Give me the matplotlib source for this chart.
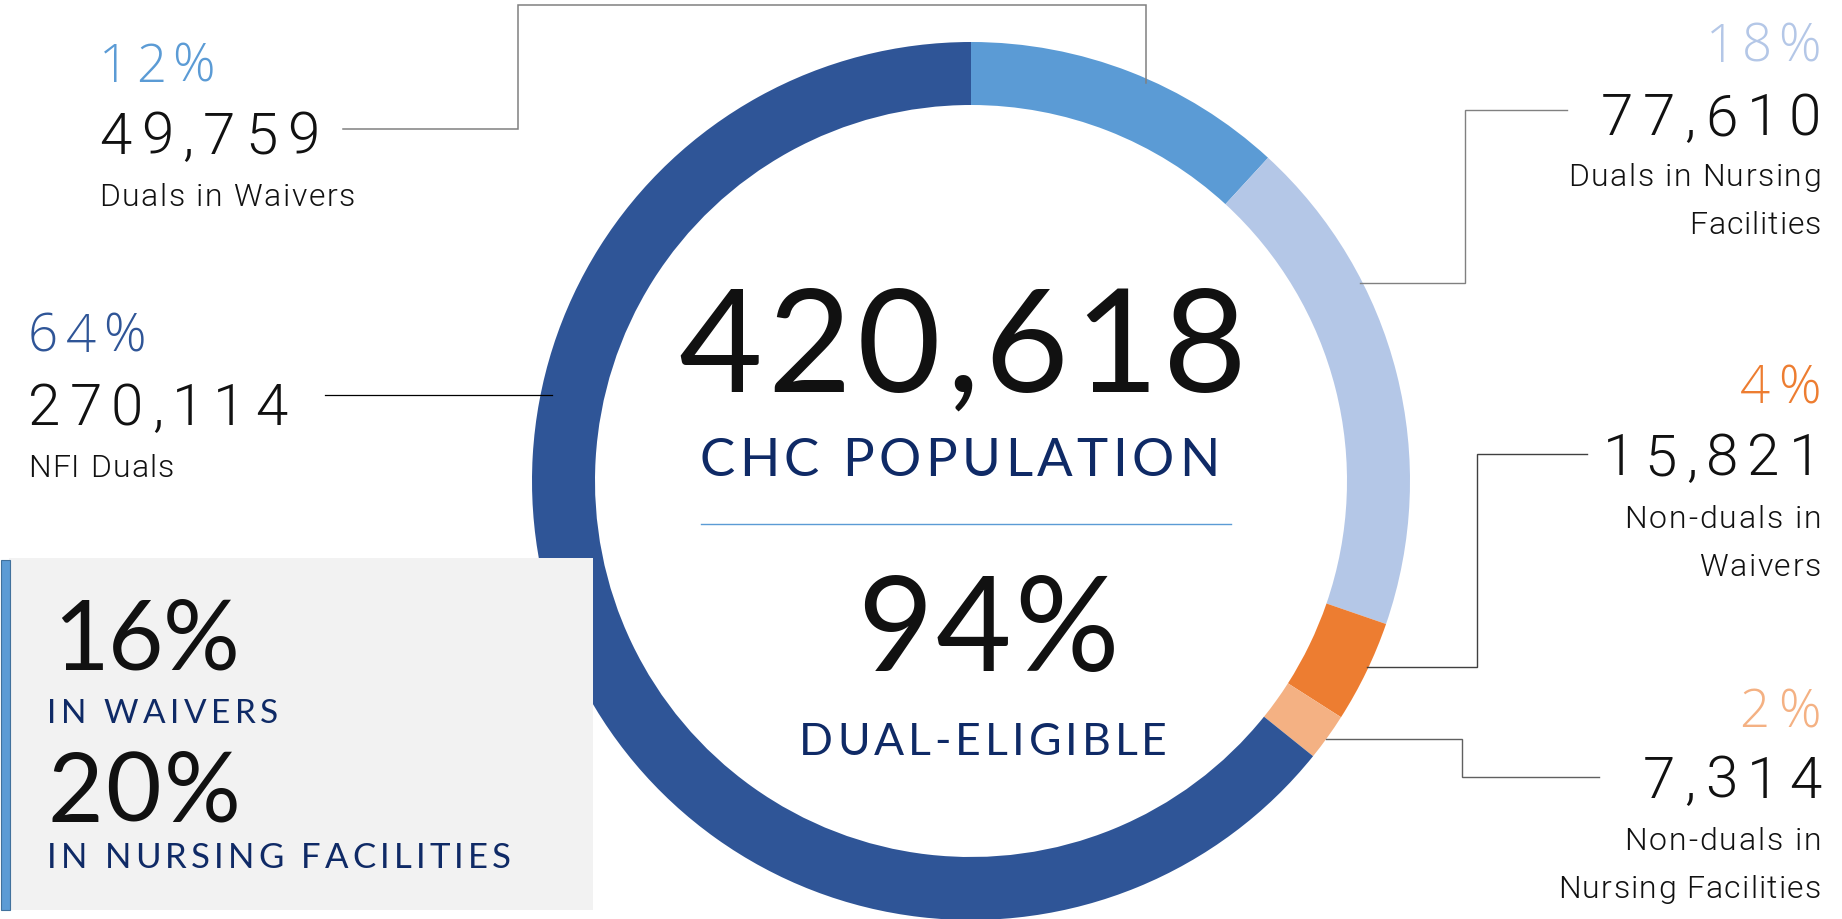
import matplotlib
matplotlib.use("Agg")
import matplotlib.pyplot as plt
from matplotlib.patches import Rectangle
from matplotlib.textpath import TextToPath
from matplotlib.font_manager import FontProperties, fontManager

# ---------------- data ----------------
categories = ["Duals in Waivers", "Duals in Nursing\nFacilities", "Non-duals in\nWaivers",
              "Non-duals in\nNursing Facilities", "NFI Duals"]
counts = [49759, 77610, 15821, 7314, 270114]
pct_labels = ["12%", "18%", "4%", "2%", "64%"]
seg_colors = ["#5B9BD5", "#B4C7E7", "#ED7D31", "#F4B183", "#2F5597"]
total_label = "420,618"
total_caption = "CHC POPULATION"
dual_pct = "94%"
dual_caption = "DUAL-ELIGIBLE"
box_values = ["16%", "20%"]
box_captions = ["IN WAIVERS", "IN NURSING FACILITIES"]

W, H = 1842, 919
NAVY = "#0F2A66"
BLACK = "#111111"


def _has(fam, weight):
    for f in fontManager.ttflist:
        try:
            wt = int(f.weight)
        except (TypeError, ValueError):
            wt = {"light": 300, "normal": 400, "regular": 400}.get(str(f.weight), 400)
        if f.name == fam and wt == weight and f.style == "normal":
            return True
    return False


def find_light(order):
    for fam in order:
        if _has(fam, 300):
            return fam, 300
    return "Lato", "normal"


LIGHT_FAM, LIGHT_WT = find_light(["Roboto", "Open Sans", "Noto Sans", "Lato"])
PCT_FAM, PCT_WT = find_light(["Open Sans", "Noto Sans", "Lato", "Roboto"])
REG_FAM = "Lato"

fig = plt.figure(figsize=(W / 100, H / 100), dpi=100)
fig.patch.set_facecolor("white")

# overlay axes in pixel coordinates
ov = fig.add_axes([0, 0, 1, 1])
ov.set_xlim(0, W)
ov.set_ylim(H, 0)
ov.axis("off")

# grey info box with blue bar
ov.add_patch(Rectangle((9, 558), 584, 352, facecolor="#F2F2F2", edgecolor="none", zorder=0))
ov.add_patch(Rectangle((0.5, 560), 9, 350, facecolor="#5B9BD5", edgecolor="#41719C", lw=0.8, zorder=1))

# donut
cx, cy, R = 971, 481, 439
pax = fig.add_axes([(cx - R) / W, (H - cy - R) / H, 2 * R / W, 2 * R / H])
pax.pie(counts, colors=seg_colors, startangle=90, counterclock=False,
        wedgeprops=dict(width=63 / R, edgecolor="none"), radius=1)
pax.set_xlim(-1, 1)
pax.set_ylim(-1, 1)
pax.set_aspect("equal")
pax.axis("off")
pax.set_zorder(0)
ov.set_zorder(2)
ov.patch.set_alpha(0)

_ttp = TextToPath()
PX = 100 / 72


def _w(s, prop):
    if not s.strip():
        return 0.0
    w, h, d = _ttp.get_text_width_height_descent(s, prop, ismath=False)
    return w * PX


def tracked(x, y, s, size, width, ha="left", color=BLACK, family=None, weight="normal"):
    prop = FontProperties(family=[family or REG_FAM, "DejaVu Sans"], weight=weight, size=size)
    natural = _w(s, prop)
    n = len(s)
    track = (width - natural) / (n - 1) if n > 1 else 0.0
    x0 = x - width if ha == "right" else (x - width / 2 if ha == "center" else x)
    for k, ch in enumerate(s):
        if ch == " ":
            continue
        off = _w(s[:k + 1], prop) - _w(ch, prop)
        ov.text(x0 + off + k * track, y, ch, fontproperties=prop, color=color,
                ha="left", va="baseline")


# label groups: x anchor, ha, pct (baseline, width), number (baseline, width), caption lines
groups = [
    (99, "left", (82, 116), (154, 220), [(206, 256)]),
    (1821, "right", (62, 115), (135, 220), [(186, 253), (234, 132)]),
    (1821, "right", (403, 81), (475, 218), [(528, 197), (576, 122)]),
    (1821, "right", (727, 82), (798, 178), [(850, 197), (898, 263)]),
    (28, "left", (352, 118), (425, 259), [(477, 146)]),
]
for i, (x, ha, (yp, wp), (yn, wn), caps) in enumerate(groups):
    tracked(x, yp, pct_labels[i], 38, wp, ha=ha, color=seg_colors[i],
            family=PCT_FAM, weight=PCT_WT)
    tracked(x, yn, f"{counts[i]:,}", 42, wn, ha=ha, family=LIGHT_FAM, weight=LIGHT_WT)
    for line, (yb, wb) in zip(categories[i].split("\n"), caps):
        tracked(x, yb, line, 23, wb, ha=ha, family=LIGHT_FAM, weight=LIGHT_WT)

# leader lines
leaders = [
    ([343, 518, 518, 1146, 1146], [129, 129, 5, 5, 83], "#808080", 1.1),
    ([325, 552], [395, 395], "#000000", 0.9),
    ([1567, 1465, 1465, 1360], [110, 110, 283, 283], "#808080", 1.0),
    ([1587, 1477, 1477, 1367], [454, 454, 667, 667], "#404040", 1.0),
    ([1599, 1462, 1462, 1326], [777, 777, 739, 739], "#606060", 1.0),
]
for xs, ys, c, lw in leaders:
    ov.plot(xs, ys, color=c, lw=lw, solid_joinstyle="miter")

# centre
tracked(678, 392, total_label, 104, 569)
tracked(699, 476, total_caption, 38, 520, color=NAVY)
ov.plot([701, 1231], [524, 524], color="#5B9BD5", lw=1.0)
tracked(857, 671, dual_pct, 94, 262)
tracked(799, 755, dual_caption, 32, 368, color=NAVY)

# box text
tracked(53, 670, box_values[0], 69, 187)
tracked(47, 723, box_captions[0], 24, 231, color=NAVY)
tracked(47, 822, box_values[1], 69, 194)
tracked(47, 868, box_captions[1], 25, 464, color=NAVY)

fig.savefig("out.png", dpi=100, facecolor="white")
